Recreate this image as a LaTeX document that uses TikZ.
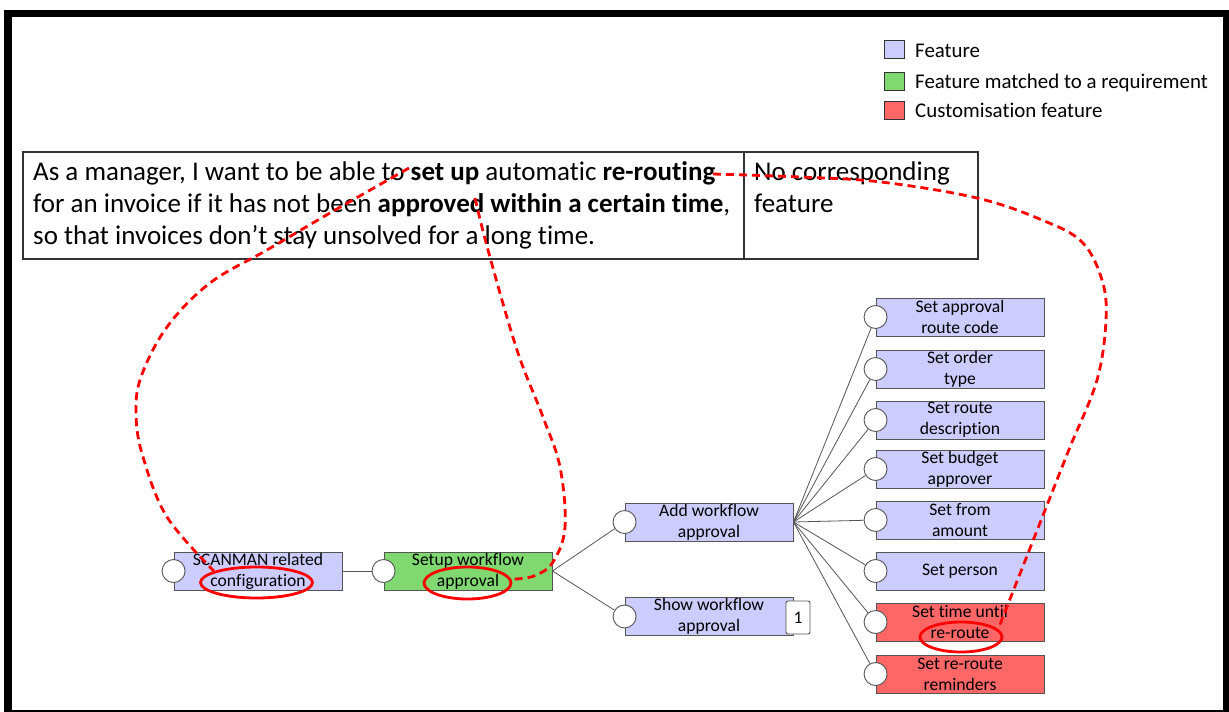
\documentclass[tikz,border=0pt]{standalone}
\usepackage{fontspec}
\setmainfont{Carlito}[Ligatures=NoCommon]
\usetikzlibrary{shapes.geometric}
\definecolor{featblue}{RGB}{204,204,255}
\definecolor{featgreen}{RGB}{128,216,112}
\definecolor{featred}{RGB}{255,102,102}
\definecolor{edgegray}{RGB}{85,85,85}
\definecolor{tracered}{RGB}{255,0,0}
\begin{document}
\begin{tikzpicture}[x=1pt,y=-1pt,
  feat/.style={draw=edgegray, line width=0.9pt, fill=featblue, minimum width=168pt,
    minimum height=38pt, inner sep=0pt, align=center, font=\fontsize{17.6}{21}\selectfont},
  matched/.style={feat, fill=featgreen},
  custom/.style={feat, fill=featred},
  port/.style={circle, draw=edgegray, line width=0.9pt, fill=white, minimum size=23pt, inner sep=0pt},
  link/.style={draw=edgegray, line width=0.8pt},
  trace/.style={draw=tracered, line width=2.8pt, dash pattern=on 8pt off 5pt},
  hilite/.style={ellipse, draw=tracered, line width=2.8pt, inner sep=0pt},
  tabtext/.style={font=\fontsize{27}{32}\selectfont, inner sep=0pt, anchor=base west},
  legtext/.style={font=\fontsize{20.9}{24}\selectfont, inner sep=0pt, anchor=base west},
  legbox/.style={draw=black!80, line width=1pt, minimum width=20pt, minimum height=18pt, inner sep=0pt},
  cell/.style={draw=black!80, line width=1.5pt, anchor=north west, inner sep=0pt, minimum height=107pt}
]
\useasboundingbox (0,0) rectangle (1229,712);
\fill[white] (0,0) rectangle (1229,712);

% outer frame
\fill[black] (4,10) rectangle (1229,17);
\fill[black] (4,10) rectangle (12,712);
\fill[black] (1223,10) rectangle (1229,712);
\fill[black] (4,710) rectangle (1229,711.5);

% legend
\node[legbox, fill=featblue]  (lgA) at (894,49) {};
\node[legbox, fill=featgreen] (lgB) at (894,81) {};
\node[legbox, fill=featred]   (lgC) at (894,110.5) {};
\node[legtext] (ltA) at (915,57)   {Feature};
\node[legtext] (ltB) at (915,88)   {Feature matched to a requirement};
\node[legtext] (ltC) at (915,117)  {Customisation feature};

% requirement table
\node[cell, minimum width=721pt] (req) at (22,151) {};
\node[cell, minimum width=234pt] (nofeat) at (743,151) {};
\node[tabtext] (rl1) at (33,180) {As a manager, I want to be able to \textbf{set up} automatic \textbf{re-routing}};
\node[tabtext] (rl2) at (33,212) {for an invoice if it has not been \textbf{approved within a certain time},};
\node[tabtext] (rl3) at (33,244) {so that invoices don’t stay unsolved for a long time.};
\node[tabtext] (nf1) at (754,180) {No corresponding};
\node[tabtext] (nf2) at (754,212) {feature};

% feature tree
\node[feat]    (scan)  at (258,571)   {SCANMAN related\\configuration};
\node[matched] (setup) at (468,571)   {Setup workflow\\approval};
\node[feat]    (add)   at (709,522)   {Add workflow\\approval};
\node[feat]    (show)  at (709,616.5) {Show workflow\\approval};
\node[feat]    (f1) at (960,317) {Set approval\\route code};
\node[feat]    (f2) at (960,369) {Set order\\type};
\node[feat]    (f3) at (960,420) {Set route\\description};
\node[feat]    (f4) at (960,469) {Set budget\\approver};
\node[feat]    (f5) at (960,520) {Set from\\amount};
\node[feat]    (f6) at (960,571) {Set person};
\node[custom]  (f7) at (960,622) {Set time until\\re-route};
\node[custom]  (f8) at (960,674) {Set re-route\\reminders};

\node[draw=edgegray, line width=0.9pt, fill=white, rounded corners=2pt, minimum width=24pt,
  minimum height=33pt, inner sep=0pt, font=\fontsize{17.6}{21}\selectfont] (badge) at (798,617.5) {1};

\foreach \n in {scan,setup,add,show,f1,f2,f3,f4,f5,f6,f7,f8}
  \node[port] (\n P) at (\n.west) {};

\draw[link] (scan.east) -- (setupP);
\draw[link] (setup.east) -- (addP);
\draw[link] (setup.east) -- (showP);
\foreach \n in {f1,f2,f3,f4,f5,f6,f7,f8}
  \draw[link] (add.east) -- (\n P);

% highlighted words and their traces
\node[hilite, minimum width=112pt, minimum height=31pt] (hlA) at (256.5,582.5) {};
\node[hilite, minimum width=87pt,  minimum height=32pt] (hlB) at (467.5,583) {};
\node[hilite, minimum width=82pt,  minimum height=30pt] (hlC) at (961,637) {};

\coordinate (wSetup)   at (409,168);
\coordinate (wApprove) at (475,198);
\coordinate (wReroute) at (713,174);

\draw[trace] plot[smooth, tension=0.6] coordinates {(wSetup) (330,213) (267,250) (210,283) (167,327)
  (141,377) (136,415) (143,457) (167,517) (hlA.165)};
\draw[trace] plot[smooth, tension=0.6] coordinates {(wApprove) (488,250) (517,350) (543,417) (560,467)
  (565,527) (553,562) (534,576) (hlB.5)};
\draw[trace] plot[smooth, tension=0.6] coordinates {(wReroute) (800,177) (881,182) (977,198) (1042,220)
  (1082,242) (1102,280) (1106,320) (1097,380) (1070,447) (1053,490) (hlC.12)};
\end{tikzpicture}
\end{document}
